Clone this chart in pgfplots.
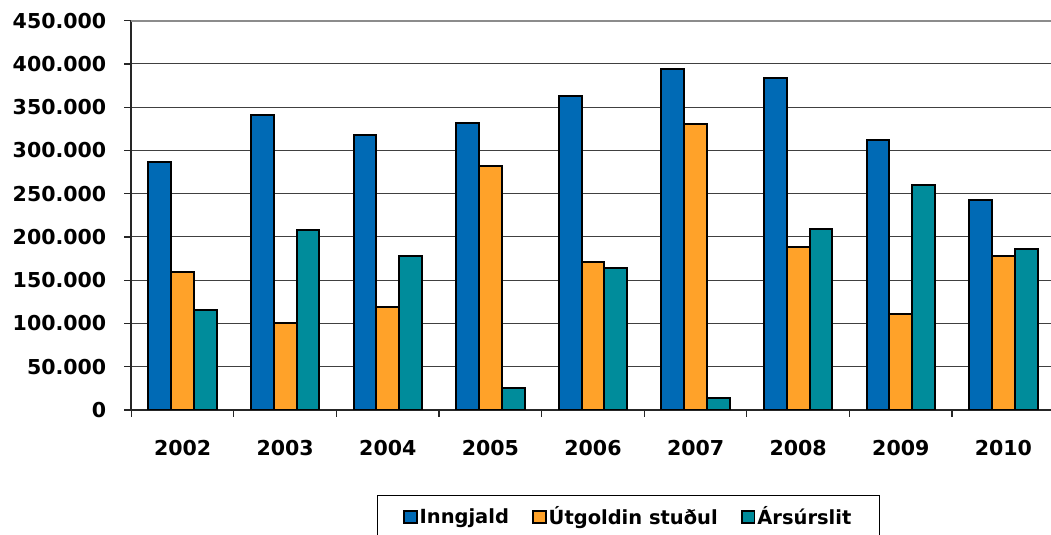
\documentclass[border=0pt]{standalone}
\usepackage{pgfplots}
\pgfplotsset{compat=1.18}
\usepackage{fontspec}
\setmainfont{DejaVu Sans}
\definecolor{cblue}{RGB}{0,106,181}
\definecolor{corange}{RGB}{255,162,41}
\definecolor{cteal}{RGB}{0,140,155}
\begin{document}
\begin{tikzpicture}
\begin{axis}[
  name=ax, at={(0,0)}, anchor=south west,
  scale only axis, width=692.55pt, height=292pt,
  xmin=-0.5, xmax=8.5, ymin=0, ymax=450000,
  ybar=0pt, bar width=17.1pt,
  axis x line*=bottom, axis y line*=left,
  axis line style={-, black!85, line width=1.3pt},
  ytick={0,50000,...,400000},
  extra y ticks={450000},
  extra y tick style={grid style={black!45, line width=1.6pt}},
  ymajorgrids, grid style={black!75, line width=0.8pt},
  scaled y ticks=false,
  /pgf/number format/fixed,
  /pgf/number format/1000 sep={.},
  /pgf/number format/assume math mode=true,
  xtick={0,...,8},
  xticklabels={2002,2003,2004,2005,2006,2007,2008,2009,2010},
  major x tick style={draw=none},
  minor xtick={-0.5,0.5,...,8.5},
  tick align=outside,
  major tick length=5.25pt, minor tick length=5.25pt,
  tick style={black!85, line width=0.9pt},
  tick label style={font=\bfseries\fontsize{15.4}{18}\selectfont},
  yticklabel style={xshift=-10pt, /pgf/number format/fixed, /pgf/number format/1000 sep={.}, /pgf/number format/assume math mode=true},
  xticklabel style={yshift=-14pt},
  legend columns=3,
  legend style={at={(0.2658,-0.2183)}, anchor=north west, draw=black, line width=0.8pt,
    font=\bfseries\fontsize{14.6}{18}\selectfont, inner xsep=19.5pt, inner ysep=7pt,
    nodes={inner sep=1.5pt},
    /tikz/every even column/.append style={column sep=16pt}},
  legend image code/.code={\draw[#1, line width=1.3pt] (0pt,-4.5pt) rectangle (9.5pt,4.5pt);},
]
\addplot[fill=cblue, draw=black, line width=1.5pt] coordinates {
(0,286400) (1,340400) (2,318400) (3,331500) (4,363400) (5,394600) (6,384200) (7,311900) (8,242200)};
\addplot[fill=corange, draw=black, line width=1.5pt] coordinates {
(0,159000) (1,100900) (2,119300) (3,281800) (4,170900) (5,331100) (6,188300) (7,111300) (8,177900)};
\addplot[fill=cteal, draw=black, line width=1.5pt] coordinates {
(0,115500) (1,207500) (2,177900) (3,25800) (4,164000) (5,13900) (6,209100) (7,260300) (8,185600)};
\legend{Inngjald,Útgoldin stuðul,Ársúrslit}
\end{axis}
\pgfresetboundingbox
\path[use as bounding box] (-98.475pt,-93.75pt) rectangle (689.775pt,307.5pt);
\end{tikzpicture}
\end{document}
